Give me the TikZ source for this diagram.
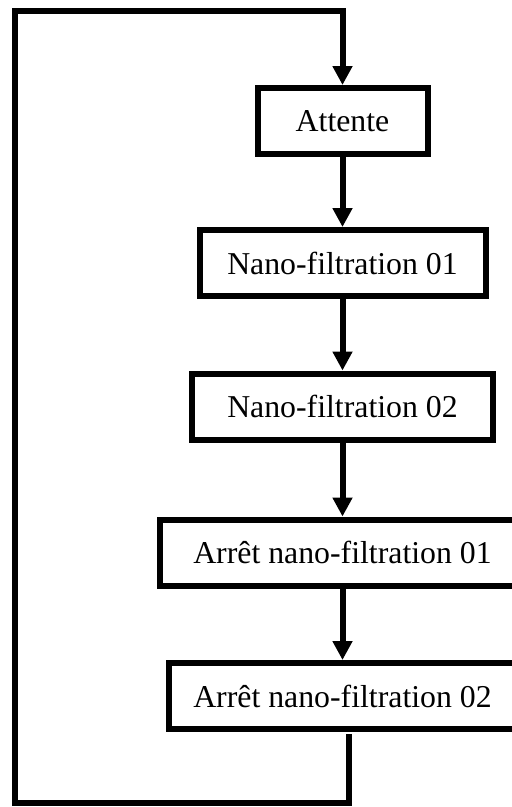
\documentclass[tikz,border=0pt]{standalone}
\usepackage{fontspec}
\setmainfont{Liberation Serif}
\usetikzlibrary{arrows.meta}
\begin{document}
\begin{tikzpicture}[x=1pt,y=-1pt,
  stepbox/.style={draw,line width=6pt,inner sep=0pt,minimum height=66pt,
    font=\fontsize{31.8}{38}\selectfont},
  flow/.style={line width=6pt,-{Triangle[width=19pt,length=19pt]}}]
\useasboundingbox (0,0) rectangle (512,807);
\clip (0,0) rectangle (512,807);
% process steps
\node[stepbox,minimum width=170pt] (b1) at (342.5,121) {Attente};
\node[stepbox,minimum width=286pt] (b2) at (342.5,263) {Nano-filtration 01};
\node[stepbox,minimum width=301pt] (b3) at (342.5,406.5) {Nano-filtration 02};
\node[stepbox,minimum width=366pt] (b4) at (342.5,552.5) {Arrêt nano-filtration 01};
\node[stepbox,minimum width=348pt] (b5) at (342.5,696) {Arrêt nano-filtration 02};
% forward arrows
\draw[flow] (b1.south) -- (b2.north);
\draw[flow] (b2.south) -- (b3.north);
\draw[flow] (b3.south) -- (b4.north);
\draw[flow] (b4.south) -- (b5.north);
% return loop
\coordinate (r0) at (348.5,734);
\coordinate (r1) at (348.5,803);
\coordinate (r2) at (15,803);
\coordinate (r3) at (15,10.5);
\coordinate (r4) at (342.5,10.5);
\draw[flow,line join=miter] (r0) -- (r1) -- (r2) -- (r3) -- (r4) -- (b1.north);
\end{tikzpicture}
\end{document}
